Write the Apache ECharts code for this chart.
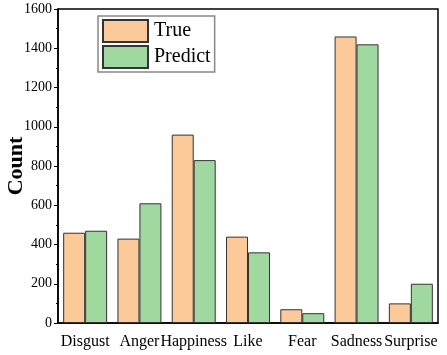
<!DOCTYPE html>
<html>
<head>
<meta charset="utf-8">
<script src="https://cdn.jsdelivr.net/npm/echarts@6/dist/echarts.min.js"></script>
<style>html,body{margin:0;padding:0;background:#fff}#c{width:447px;height:355px}</style>
</head>
<body>
<div id="c"></div>
<script>
const categories = ['Disgust', 'Anger', 'Happiness', 'Like', 'Fear', 'Sadness', 'Surprise'];
const trueValues = [460, 430, 960, 440, 70, 1460, 100];
const predictValues = [470, 610, 830, 360, 50, 1420, 200];
const yTicks = [0, 200, 400, 600, 800, 1000, 1200, 1400, 1600];

const font = '"Liberation Serif", "Times New Roman", serif';
const chart = echarts.init(document.getElementById('c'), null, {renderer: 'canvas'});
chart.setOption({
  animation: false,
  backgroundColor: '#fff',
  grid: {left: 58, right: 9, top: 9, bottom: 32, containLabel: false, outerBoundsMode: 'none',
         show: true, borderColor: '#000', borderWidth: 1.5, backgroundColor: 'transparent'},
  legend: {
    orient: 'vertical', left: 98, top: 16,
    icon: 'rect',
    itemWidth: 45, itemHeight: 22, itemGap: 2,
    padding: [3, 4, 3, 4],
    borderColor: '#888', borderWidth: 1.5,
    textStyle: {fontFamily: font, fontSize: 20, color: '#000', padding: [0, 0, 0, 1]},
    data: ['True', 'Predict']
  },
  xAxis: {
    type: 'category', data: categories,
    axisLine: {lineStyle: {color: '#000', width: 1.5}},
    axisTick: {inside: true, length: 3, lineStyle: {color: '#000'}},
    axisLabel: {fontFamily: font, fontSize: 16, color: '#000', margin: 11, interval: 0}
  },
  yAxis: {
    type: 'value', min: yTicks[0], max: yTicks[yTicks.length - 1], interval: 200,
    name: 'Count', nameLocation: 'middle', nameGap: 31, nameMoveOverlap: false,
    nameTextStyle: {fontFamily: font, fontSize: 22, fontWeight: 'bold', color: '#000'},
    axisLine: {show: true, lineStyle: {color: '#000', width: 1.5}},
    axisTick: {show: true, length: 4, lineStyle: {color: '#000'}},
    minorTick: {show: true, splitNumber: 2, length: 2, lineStyle: {color: '#000'}},
    splitLine: {show: false},
    axisLabel: {fontFamily: font, fontSize: 14, color: '#000', margin: 6, formatter: v => String(v)}
  },
  series: [
    {name: 'True', type: 'bar', data: trueValues, barGap: '0%', barCategoryGap: '19%',
     itemStyle: {color: '#FCC998', borderColor: '#333', borderWidth: 1}},
    {name: 'Predict', type: 'bar', data: predictValues, barGap: '0%', barCategoryGap: '19%',
     itemStyle: {color: '#A0D9A0', borderColor: '#333', borderWidth: 1}}
  ]
});
</script>
</body>
</html>
